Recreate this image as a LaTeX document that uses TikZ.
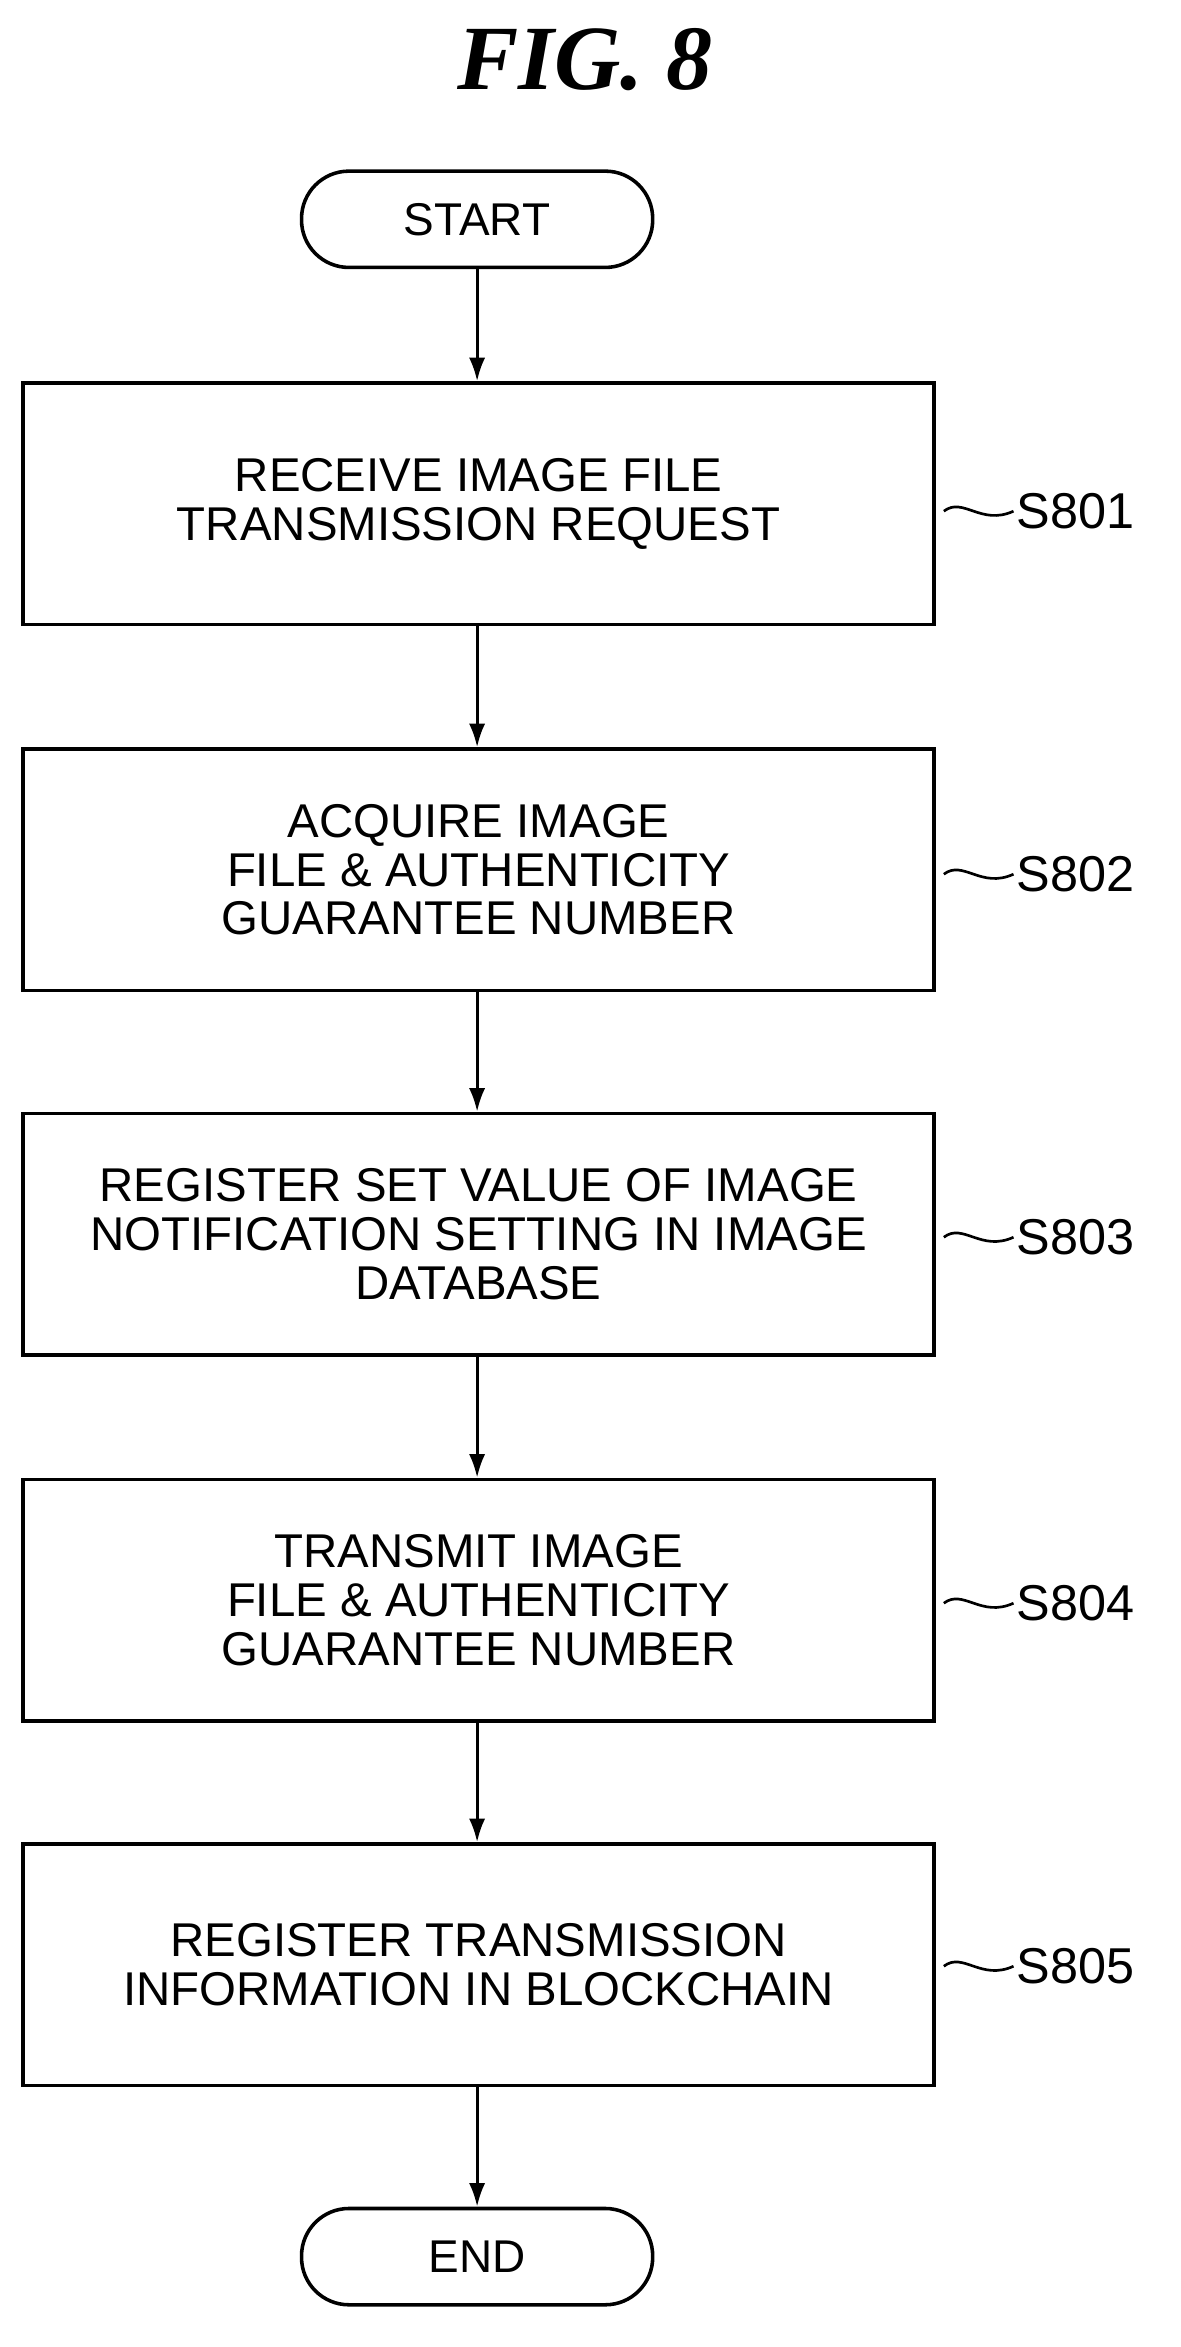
\documentclass[tikz,border=0pt]{standalone}
\usepackage{fontspec}
\setmainfont{Liberation Sans}
\newfontfamily\titlefont{Liberation Serif}
\usetikzlibrary{arrows.meta}
\begin{document}
\begin{tikzpicture}[x=1pt,y=-1pt,
  stepbox/.style={draw,line width=2.4pt,minimum width=615pt,minimum height=163pt,align=center,font=\fontsize{32}{33}\selectfont,inner sep=0pt},
  term/.style={draw,line width=2.4pt,rounded corners=32pt,minimum width=237pt,minimum height=65pt,font=\fontsize{31}{33}\selectfont},
  arr/.style={line width=2pt,-{Latex[length=16pt,width=11pt]}},
  lbl/.style={anchor=west,font=\fontsize{34}{36}\selectfont,inner sep=0pt},
  wave/.style={line width=1.8pt}]
\useasboundingbox (0,0) rectangle (797,1584);
\node[font=\titlefont\bfseries\itshape\fontsize{62}{64}\selectfont] (title) at (395,40) {FIG. 8};
\node[term] (start) at (322,148) {START};
\node[stepbox] (b1) at (323,340) {RECEIVE IMAGE FILE\\TRANSMISSION REQUEST};
\node[stepbox] (b2) at (323,587) {ACQUIRE IMAGE\\FILE \& AUTHENTICITY\\GUARANTEE NUMBER};
\node[stepbox] (b3) at (323,833) {REGISTER SET VALUE OF IMAGE\\NOTIFICATION SETTING IN IMAGE\\DATABASE};
\node[stepbox] (b4) at (323,1080) {TRANSMIT IMAGE\\FILE \& AUTHENTICITY\\GUARANTEE NUMBER};
\node[stepbox] (b5) at (323,1326) {REGISTER TRANSMISSION\\INFORMATION IN BLOCKCHAIN};
\node[term] (end) at (322,1523) {END};
\foreach \a/\b in {start/b1,b1/b2,b2/b3,b3/b4,b4/b5,b5/end}
  \draw[arr] (\a.south -| 322,0) -- (\b.north -| 322,0);
\foreach \n/\s/\y in {b1/S801/345,b2/S802/590,b3/S803/835,b4/S804/1082,b5/S805/1327}{
  \coordinate (w\n) at (637,\y);
  \draw[wave] (w\n) .. controls (650,\y-10) and (662,\y+10) .. (684,\y);
  \node[lbl] (l\n) at (686,\y) {\s};
}
\end{tikzpicture}
\end{document}
